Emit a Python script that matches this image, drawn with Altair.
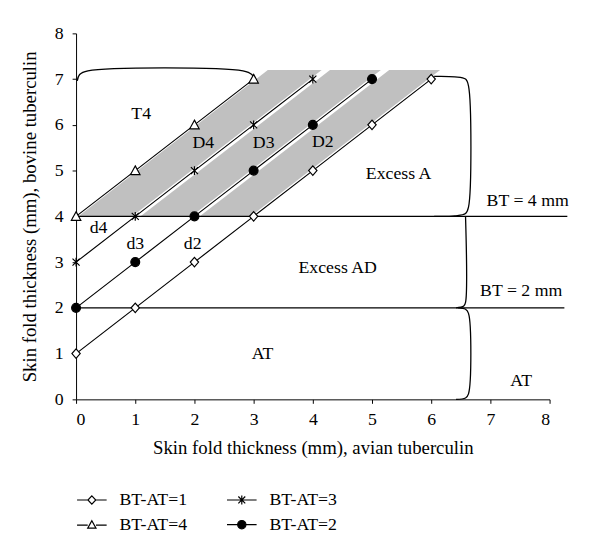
import altair as alt
import pandas as pd

# ---- data ----
series_names = ["BT-AT=1", "BT-AT=2", "BT-AT=3", "BT-AT=4"]
x_bt1 = [0, 1, 2, 3, 4, 5, 6]
y_bt1 = [1, 2, 3, 4, 5, 6, 7]
x_bt2 = [0, 1, 2, 3, 4, 5]
y_bt2 = [2, 3, 4, 5, 6, 7]
x_bt3 = [0, 1, 2, 3, 4]
y_bt3 = [3, 4, 5, 6, 7]
x_bt4 = [0, 1, 2, 3]
y_bt4 = [4, 5, 6, 7]

# shaded bands (D4, D3, D2): bottom / top edges
band_names = ["D4", "D4", "D3", "D3", "D2", "D2"]
band_y = [4, 7.2, 4, 7.2, 4, 7.2]
band_xl = [0.04, 3.24, 1.09, 4.29, 2.09, 5.29]
band_xr = [0.95, 4.15, 1.95, 5.15, 2.95, 6.15]

# threshold lines BT = 4 mm and BT = 2 mm
thr_names = ["BT4", "BT4", "BT2", "BT2"]
thr_x = [0, 8.3, 0, 8.25]
thr_y = [4, 4, 2, 2]

# braces
brace_names = (["T4"] * 6 + ["A"] * 8 + ["AD"] * 4 + ["AT"] * 6)
brace_x = [0.02, 0.06, 0.2, 2.82, 2.97, 3.02,
           6.05, 6.4, 6.58, 6.63, 6.63, 6.58, 6.4, 6.05,
           6.58, 6.58, 6.55, 6.42,
           6.45, 6.58, 6.63, 6.63, 6.58, 6.42]
brace_y = [6.96, 7.1, 7.18, 7.18, 7.1, 6.97,
           7.06, 7.05, 7.0, 6.85, 4.2, 4.06, 4.01, 4.0,
           4.0, 2.12, 2.04, 2.0,
           2.0, 1.97, 1.88, 0.12, 0.03, 0.0]

# annotations
ann_text = ["T4", "D4", "D3", "D2", "Excess A", "BT = 4 mm", "Excess AD",
            "BT = 2 mm", "AT", "AT", "d4", "d3", "d2"]
ann_x = [1.1, 2.15, 3.17, 4.17, 5.45, 7.63, 4.42, 7.52, 3.15, 7.52, 0.38, 1.0, 1.97]
ann_y = [6.23, 5.6, 5.6, 5.62, 4.93, 4.33, 2.87, 2.37, 0.99, 0.41, 3.75, 3.4, 3.4]

legend_order = ["BT-AT=1", "BT-AT=3", "BT-AT=4", "BT-AT=2"]

# ---- tables ----
pts = pd.concat([
    pd.DataFrame({"series": "BT-AT=1", "x": x_bt1, "y": y_bt1}),
    pd.DataFrame({"series": "BT-AT=2", "x": x_bt2, "y": y_bt2}),
    pd.DataFrame({"series": "BT-AT=3", "x": x_bt3, "y": y_bt3}),
    pd.DataFrame({"series": "BT-AT=4", "x": x_bt4, "y": y_bt4}),
], ignore_index=True)

bands = pd.DataFrame({"band": band_names, "y": band_y, "xl": band_xl, "xr": band_xr})
thr = pd.DataFrame({"id": thr_names, "x": thr_x, "y": thr_y, "o": list(range(len(thr_x)))})
braces = pd.DataFrame({"id": brace_names, "x": brace_x, "y": brace_y,
                       "o": list(range(len(brace_x)))})
ann = pd.DataFrame({"t": ann_text, "x": ann_x, "y": ann_y})
dummy = pd.DataFrame({"series": legend_order, "x": [-20] * 4, "y": [-20] * 4})

FONT = "Liberation Serif"
xs = alt.Scale(domain=[0, 8], nice=False)
ys = alt.Scale(domain=[0, 8], nice=False)

X = alt.X("x:Q", scale=xs, title="Skin fold thickness (mm), avian tuberculin",
          axis=alt.Axis(values=list(range(9)), format="d", grid=False, tickSize=4,
                        labelPadding=7, titlePadding=11, domainColor="black",
                        tickColor="black", labelColor="black", titleColor="black",
                        labelFont=FONT, titleFont=FONT, labelFontSize=18,
                        titleFontSize=19, titleFontWeight="normal"))
Y = alt.Y("y:Q", scale=ys, title="Skin fold thickness (mm), bovine tuberculin",
          axis=alt.Axis(values=list(range(9)), format="d", grid=False, tickSize=4,
                        labelPadding=9, titlePadding=15, domainColor="black",
                        tickColor="black", labelColor="black", titleColor="black",
                        labelFont=FONT, titleFont=FONT, labelFontSize=18,
                        titleFontSize=19, titleFontWeight="normal"))

band_layer = alt.Chart(bands).mark_area(orient="horizontal", color="#c0c0c0").encode(
    y=alt.Y("y:Q", scale=ys), x=alt.X("xl:Q", scale=xs), x2="xr:Q", detail="band:N")

base_axes = alt.Chart(pts).mark_line(color="black", strokeWidth=1.2).encode(
    x=X, y=Y, detail="series:N")

thr_layer = alt.Chart(thr).mark_line(color="black", strokeWidth=1.2).encode(
    x=alt.X("x:Q", scale=xs), y=alt.Y("y:Q", scale=ys), detail="id:N", order="o:Q")

brace_layer = alt.Chart(braces).mark_line(color="black", strokeWidth=1.3,
                                          interpolate="catmull-rom").encode(
    x=alt.X("x:Q", scale=xs), y=alt.Y("y:Q", scale=ys), detail="id:N", order="o:Q")

marker_paths = [
    "M0,-0.48L0.42,0L0,0.48L-0.42,0Z",
    "M0.45,0A0.45,0.45 0 1,1 -0.45,0A0.45,0.45 0 1,1 0.45,0Z",
    "M-0.36,-0.36L0.36,0.36M-0.36,0.36L0.36,-0.36M0,-0.45L0,0.45",
    "M0,-0.48L0.48,0.4L-0.48,0.4Z",
]
fill_range = ["white", "black", "white", "white"]

marker_layer = alt.Chart(pts).mark_point(stroke="black", strokeWidth=1.2, opacity=1,
                                         size=400).encode(
    x=alt.X("x:Q", scale=xs), y=alt.Y("y:Q", scale=ys),
    shape=alt.Shape("series:N", scale=alt.Scale(domain=series_names, range=marker_paths),
                    legend=None),
    fill=alt.Fill("series:N", scale=alt.Scale(domain=series_names, range=fill_range),
                  legend=None),
)

# legend symbols: line with marker
leg_paths = {
    "BT-AT=1": "M-1.5,0H-0.4M0.4,0H1.5M0,-0.42L0.4,0L0,0.42L-0.4,0Z",
    "BT-AT=3": "M-1.5,0H1.5M-0.35,-0.35L0.35,0.35M-0.35,0.35L0.35,-0.35M0,-0.45L0,0.45",
    "BT-AT=4": "M-1.5,0.05H-0.42M0.42,0.05H1.5M0,-0.4L0.42,0.35L-0.42,0.35Z",
    "BT-AT=2": "M-1.5,0H1.5M0.42,0A0.42,0.42 0 1,1 -0.42,0A0.42,0.42 0 1,1 0.42,0Z",
}
leg_fill = {"BT-AT=1": "white", "BT-AT=3": "white", "BT-AT=4": "white", "BT-AT=2": "black"}

legend_def = alt.Legend(title=None, orient="none", legendX=0, legendY=462,
                        direction="horizontal", columns=2, columnPadding=37,
                        rowPadding=5, symbolSize=400, symbolStrokeWidth=1.2,
                        symbolStrokeColor="black", symbolOpacity=1,
                        labelFont=FONT, labelFontSize=18, labelColor="black",
                        labelOffset=17, symbolOffset=5)

legend_layer = alt.Chart(dummy).mark_point(strokeWidth=1.2, clip=True,
                                           size=400).encode(
    x=alt.X("x:Q", scale=xs), y=alt.Y("y:Q", scale=ys),
    shape=alt.Shape("series:N",
                    scale=alt.Scale(domain=legend_order,
                                    range=[leg_paths[s] for s in legend_order]),
                    legend=legend_def),
    fill=alt.Fill("series:N",
                  scale=alt.Scale(domain=legend_order,
                                  range=[leg_fill[s] for s in legend_order]),
                  legend=legend_def),
    stroke=alt.Stroke("series:N",
                      scale=alt.Scale(domain=legend_order, range=["black"] * 4),
                      legend=legend_def),
)

text_layer = alt.Chart(ann).mark_text(font=FONT, fontSize=18, color="black").encode(
    x=alt.X("x:Q", scale=xs), y=alt.Y("y:Q", scale=ys), text="t:N")

chart = alt.layer(
    band_layer, base_axes, thr_layer, brace_layer, marker_layer, legend_layer, text_layer
).resolve_scale(shape="independent", fill="independent", stroke="independent").properties(
    width=480, height=371,
    autosize=alt.AutoSizeParams(type="none"),
    padding={"left": 69, "top": 22, "right": 43, "bottom": 150},
).configure_view(stroke=None)

chart.save("out.html", embed_options={"renderer": "svg", "actions": False})
